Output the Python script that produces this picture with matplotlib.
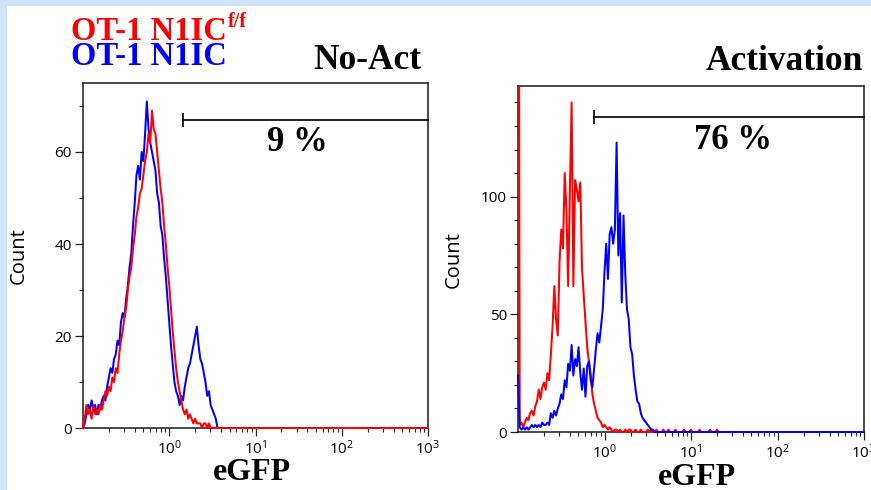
import numpy as np
import matplotlib
matplotlib.use("Agg")
import matplotlib.pyplot as plt
from matplotlib.patches import Rectangle
from matplotlib.ticker import (FixedLocator, LogLocator, MultipleLocator,
                               FuncFormatter, NullFormatter)

plt.rcParams["font.family"] = ["Open Sans", "DejaVu Sans"]
plt.rcParams["mathtext.fontset"] = "custom"
plt.rcParams["mathtext.rm"] = "Open Sans"

# ---- histogram channels: 50 log-spaced channels per decade, starting at 0.1
CHANNELS_PER_DECADE = 50
X_MIN, X_MAX = 0.1, 1000
decade_ticks = [1, 10, 100, 1000]

# ---- No-Act panel: eGFP counts per channel
blue_noact = [0, 1, 3, 5, 4, 6, 4, 5, 3, 5,
              4, 6, 7, 6, 9, 11, 13, 12, 15, 16,
              19, 18, 23, 25, 24, 28, 31, 35, 38, 44,
              49, 55, 57, 54, 60, 58, 64, 71, 65, 62,
              60, 58, 56, 51, 49, 44, 42, 37, 33, 28,
              23, 18, 14, 10, 8, 7, 5, 7, 6, 9,
              11, 13, 14, 16, 18, 20, 22, 18, 15, 14,
              12, 10, 7, 8, 5, 4, 3, 2, 0] + [0] * 122
red_noact = [0, 2, 5, 3, 4, 2, 5, 3, 4, 3,
             5, 4, 6, 8, 7, 9, 8, 11, 10, 13,
             12, 16, 19, 21, 24, 26, 30, 33, 35, 39,
             42, 46, 48, 51, 52, 55, 58, 60, 64, 62,
             69, 65, 64, 60, 56, 52, 49, 44, 40, 35,
             31, 26, 21, 17, 13, 10, 8, 6, 4, 3,
             4, 2, 3, 2, 1, 2, 1, 1, 1, 0,
             1, 1, 0, 1, 0, 0] + [0] * 125

# ---- Activation panel: eGFP counts per channel (first channel holds off-scale events)
red_act = [420, 3, 4, 2, 4, 6, 5, 8, 9, 7,
           11, 13, 18, 14, 19, 21, 18, 25, 22, 33,
           45, 62, 48, 41, 72, 86, 78, 110, 94, 62,
           103, 140, 62, 107, 103, 98, 106, 70, 58, 47,
           36, 30, 25, 16, 12, 9, 6, 5, 4, 2,
           3, 2, 1, 2, 1, 0, 1, 1, 0, 1,
           0, 0, 1, 0, 1, 1, 0, 0, 1, 0,
           0, 1, 0, 0, 0, 1, 0, 1, 0, 0,
           1, 0, 0, 0, 1, 0, 0, 1, 0, 0,
           0, 1, 0, 0, 0, 0, 1, 0, 0, 0,
           1, 0, 0, 0, 0, 1, 0, 0, 0, 0,
           0, 1, 0, 0, 0, 1, 0, 0]
blue_act = [24, 2, 1, 2, 1, 2, 1, 2, 3, 2,
            3, 2, 3, 2, 4, 3, 3, 4, 3, 8,
            6, 9, 7, 10, 12, 16, 14, 22, 19, 29,
            26, 37, 24, 31, 28, 36, 25, 18, 27, 15,
            28, 30, 22, 19, 27, 35, 42, 38, 45, 52,
            68, 80, 65, 84, 87, 80, 86, 123, 75, 93,
            55, 92, 67, 52, 48, 36, 33, 24, 18, 13,
            12, 8, 6, 5, 4, 3, 2, 1, 1, 0] + [0] * 121

# ---- gates: left edge of the positive gate, gate height, percent positive
gate_start = [1.44, 0.75]
gate_level = [67, 134]
gate_percent = ["9 %", "76 %"]
panel_titles = ["No-Act", "Activation"]
y_limits = [75, 147]
y_major_steps = [20, 50]

RED = "#ff0000"
BLUE = "#0000ff"
SERIF = "Liberation Serif"
LW = 1.45


def channels(counts):
    return X_MIN * 10 ** (np.arange(len(counts)) / CHANNELS_PER_DECADE)


def trace(ax, counts, color, z):
    line, = ax.plot(channels(counts), counts, color=color, lw=LW, zorder=z)
    # let the trace cover the left and bottom spines; clip at the top edge
    clip = Rectangle((-0.006, -0.012), 1.012, 1.012, transform=ax.transAxes)
    line.set_clip_path(clip)
    return line


fig = plt.figure(figsize=(8.71, 4.9), dpi=100, facecolor="#cfe3f9")
fig.add_artist(Rectangle((7 / 871, 0), 1, 484 / 490, transform=fig.transFigure,
                         facecolor="white", edgecolor="none", zorder=-5))

ax1 = fig.add_axes([83 / 871, 1 - 428 / 490, 345 / 871, 345 / 490])
ax2 = fig.add_axes([518 / 871, 1 - 432 / 490, 346 / 871, 346 / 490])

trace(ax1, blue_noact, BLUE, 3)
trace(ax1, red_noact, RED, 3.1)
trace(ax2, red_act, RED, 3)
trace(ax2, blue_act, BLUE, 3.1)

decade_fmt = FuncFormatter(lambda v, pos: r"$\mathrm{10^{%d}}$" % round(np.log10(v)))

for k, ax in enumerate([ax1, ax2]):
    ax.set_xscale("log")
    ax.set_xlim(X_MIN, X_MAX)
    ax.set_ylim(0, y_limits[k])
    ax.xaxis.set_major_locator(FixedLocator(decade_ticks))
    ax.xaxis.set_major_formatter(decade_fmt)
    ax.xaxis.set_minor_locator(LogLocator(base=10, subs=np.arange(2, 10), numticks=50))
    ax.xaxis.set_minor_formatter(NullFormatter())
    ax.yaxis.set_major_locator(MultipleLocator(y_major_steps[k]))
    ax.yaxis.set_minor_locator(MultipleLocator(10))
    ax.tick_params(which="major", length=5.5, width=0.9, labelsize=11,
                   pad=2.5, color="#222222")
    ax.tick_params(which="minor", length=3.0, width=0.8, color="#222222")
    for s in ax.spines.values():
        s.set_linewidth(1.1)
        s.set_color("#1a1a1a")

    # positive gate bar
    ax.plot([gate_start[k], X_MAX], [gate_level[k], gate_level[k]],
            color="#111111", lw=1.3, zorder=4, clip_on=False)
    ax.plot([gate_start[k]], [gate_level[k]], marker="|", ms=10, mew=1.3,
            color="#111111", zorder=4)
    ax.text(0.620, [0.803, 0.818][k], gate_percent[k], transform=ax.transAxes,
            ha="center", va="baseline", family=SERIF, weight="bold", fontsize=25)

    ax.set_ylabel("Count", fontsize=14.5)
    ax.yaxis.set_label_coords([-0.157, -0.157][k], [0.5, 0.497][k])
    ax.set_xlabel("eGFP", family=SERIF, weight="bold", fontsize=23)
    ax.xaxis.set_label_coords([0.49, 0.516][k], [-0.151, -0.153][k])
    ax.xaxis.label.set_verticalalignment("baseline")

# panel titles
fig.text(421 / 871, 1 - 69 / 490, panel_titles[0], ha="right", va="baseline",
         family=SERIF, weight="bold", fontsize=25.5)
fig.text(863 / 871, 1 - 70 / 490, panel_titles[1], ha="right", va="baseline",
         family=SERIF, weight="bold", fontsize=25.5)

# genotype key (red line carries a superscript f/f)
key_red = fig.text(71 / 871, 1 - 40 / 490, "OT-1 N1IC", ha="left", va="baseline",
                   family=SERIF, weight="bold", fontsize=23.5, color=RED)
fig.text(71 / 871, 1 - 65 / 490, "OT-1 N1IC", ha="left", va="baseline",
         family=SERIF, weight="bold", fontsize=23.5, color=BLUE)
renderer = fig.canvas.get_renderer()
x_end = key_red.get_window_extent(renderer).x1
fig.text((x_end + 1) / 871, 1 - 27 / 490, "f/f", ha="left", va="baseline",
         family=SERIF, weight="bold", fontsize=14.5, color=RED)

fig.savefig("out.png", dpi=100, facecolor=fig.get_facecolor())
